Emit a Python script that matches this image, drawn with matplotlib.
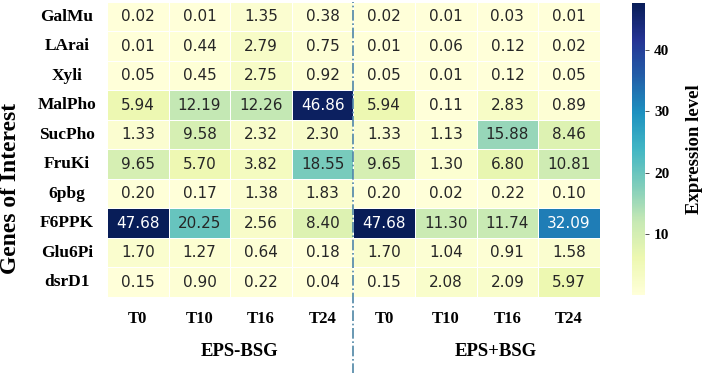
import numpy as np
import pandas as pd
import matplotlib
matplotlib.use("Agg")
import matplotlib.pyplot as plt
import seaborn as sns

genes = ['GalMu', 'LArai', 'Xyli', 'MalPho', 'SucPho', 'FruKi',
         '6pbg', 'F6PPK', 'Glu6Pi', 'dsrD1']
times = ['T0', 'T10', 'T16', 'T24']
groups = ['EPS-BSG', 'EPS+BSG']

eps_minus = [
    [0.02, 0.01, 1.35, 0.38],
    [0.01, 0.44, 2.79, 0.75],
    [0.05, 0.45, 2.75, 0.92],
    [5.94, 12.19, 12.26, 46.86],
    [1.33, 9.58, 2.32, 2.30],
    [9.65, 5.70, 3.82, 18.55],
    [0.20, 0.17, 1.38, 1.83],
    [47.68, 20.25, 2.56, 8.40],
    [1.70, 1.27, 0.64, 0.18],
    [0.15, 0.90, 0.22, 0.04],
]
eps_plus = [
    [0.02, 0.01, 0.03, 0.01],
    [0.01, 0.06, 0.12, 0.02],
    [0.05, 0.01, 0.12, 0.05],
    [5.94, 0.11, 2.83, 0.89],
    [1.33, 1.13, 15.88, 8.46],
    [9.65, 1.30, 6.80, 10.81],
    [0.20, 0.02, 0.22, 0.10],
    [47.68, 11.30, 11.74, 32.09],
    [1.70, 1.04, 0.91, 1.58],
    [0.15, 2.08, 2.09, 5.97],
]

df = pd.DataFrame(np.hstack([eps_minus, eps_plus]), index=genes,
                  columns=[f'{g} {t}' for g in groups for t in times])

serif = 'Liberation Serif'

fig = plt.figure(figsize=(7.09, 3.73), dpi=100)
ax = fig.add_axes([0.151, 0.204, 0.695, 0.791])
cax = fig.add_axes([0.891, 0.209, 0.019, 0.783])

sns.heatmap(df, ax=ax, cbar_ax=cax, cmap='YlGnBu', annot=True, fmt='.2f',
            linewidths=0.5, linecolor='white',
            annot_kws={'fontsize': 11})

ax.set_xticks(np.arange(len(df.columns)) + 0.5)
ax.set_xticklabels(times * 2, rotation=0, fontfamily=serif,
                   fontweight='bold', fontsize=12)
ax.set_yticks(np.arange(len(genes)) + 0.5)
ax.set_yticklabels(genes, rotation=0, fontfamily=serif,
                   fontweight='bold', fontsize=12.5, ha='center')
ax.tick_params(axis='y', length=0, pad=29)
ax.tick_params(axis='x', length=0, pad=10)
ax.set_xlabel('')
ax.set_ylabel('')

# group labels under the time points
fig.text(240 / 709, 1 - 352 / 373, groups[0], ha='center', va='center',
         fontfamily=serif, fontweight='bold', fontsize=13.5)
fig.text(496 / 709, 1 - 352 / 373, groups[1], ha='center', va='center',
         fontfamily=serif, fontweight='bold', fontsize=13.5)
fig.text(11 / 709, 1 - 188 / 373, 'Genes of Interest', rotation=90,
         ha='center', va='center', fontfamily=serif, fontweight='bold',
         fontsize=17)

# separator between the two treatments
ax.axvline(4, ymin=-0.26, ymax=1.0, color='#4f86a6', ls='-.', lw=1.2,
           clip_on=False)

cax.tick_params(length=3, width=0.6, color='#333333')
for t in cax.get_yticklabels():
    t.set_fontfamily(serif)
    t.set_fontweight('bold')
    t.set_fontsize(11)
cax.set_ylabel('Expression level', fontfamily=serif, fontweight='bold',
               fontsize=13.5, labelpad=12)

fig.savefig('out.png', dpi=100)
